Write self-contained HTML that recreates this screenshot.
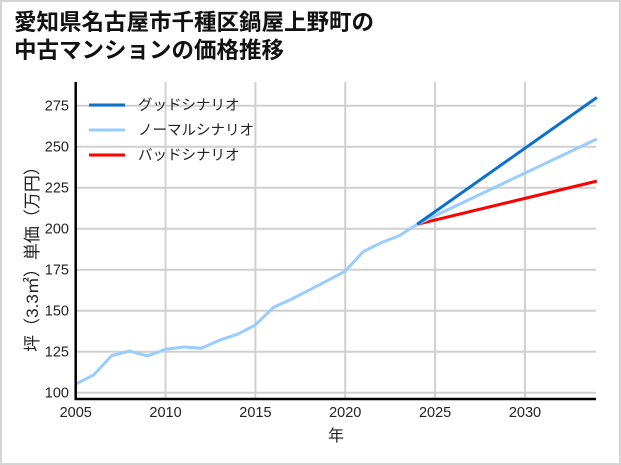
<!DOCTYPE html>
<html><head><meta charset="utf-8"><style>
html,body{margin:0;padding:0;background:#fff}
#wrap{position:relative;width:617px;height:461px;border:2px solid #d4d4d4;overflow:hidden}
svg text{font-family:"Liberation Sans","Noto Sans CJK JP",sans-serif}
</style></head><body>
<div id="wrap">
<svg id="chart" width="621" height="465" style="position:absolute;left:-2px;top:-2px">
<text x="14" y="30" font-size="22.5" font-weight="bold" fill="#111">愛知県名古屋市千種区鍋屋上野町の</text>
<text x="14" y="58" font-size="22.5" font-weight="bold" fill="#111">中古マンションの価格推移</text>
<g id="grid"></g><g id="series"></g><g id="axes"></g><g id="legend"></g>
<text x="336" y="441" font-size="16" fill="#222" text-anchor="middle">年</text>
<text transform="translate(38,255) rotate(-90)" font-size="17" fill="#222" text-anchor="middle">坪（3.3㎡）単価（万円）</text>
</svg>
</div>
<script>
const years=[2005,2006,2007,2008,2009,2010,2011,2012,2013,2014,2015,2016,2017,2018,2019,2020,2021,2022,2023,2024];
const history=[105.3,110.8,122.6,125.4,122.4,126.5,127.9,127.1,132,135.6,141.3,152,157,162.6,168.3,174.2,186,191.5,195.7,202.7];
const projYears=[2024,2034];
const good=[202.7,280];
const normal=[202.7,254.7];
const bad=[202.7,229];
const xTicks=[2005,2010,2015,2020,2025,2030];
const yTicks=[100,125,150,175,200,225,250,275];
const legendLabels=["グッドシナリオ","ノーマルシナリオ","バッドシナリオ"];
const legendColors=["#0a72cc","#99ccff","#ff0000"];

const X0=75.7,X1=596,Y0=399,Y1=82;
const xs=y=>X0+(y-2005)*17.97;
const ys=v=>392.7-(v-100)*1.64;
const NS="http://www.w3.org/2000/svg";
function mk(t,a,p){const e=document.createElementNS(NS,t);for(const k in a)e.setAttribute(k,a[k]);p.appendChild(e);return e;}
const grid=document.getElementById('grid'),axes=document.getElementById('axes'),ser=document.getElementById('series'),leg=document.getElementById('legend');
xTicks.forEach(t=>{
  const l=mk('line',{x1:xs(t),x2:xs(t),y1:Y1,y2:Y0,stroke:'#d0d0d0','stroke-width':2},grid);
  
  
  const tx=mk('text',{x:xs(t),y:417,'font-size':14.5,fill:'#222','text-anchor':'middle'},axes);
  tx.textContent=t;
  
  
});
yTicks.forEach(t=>{
  const l=mk('line',{x1:X0,x2:X1,y1:ys(t),y2:ys(t),stroke:'#d0d0d0','stroke-width':2},grid);
  
  
  const tx=mk('text',{x:69,y:ys(t)+5,'font-size':14.5,fill:'#222','text-anchor':'end'},axes);
  tx.textContent=t;
  
  
});
const ax=mk('path',{d:`M${X0},${Y1}V${Y0}H${X1}`,fill:'none',stroke:'#000','stroke-width':2.5},axes);


function line(xv,yv,c,name){
  const p=mk('polyline',{points:xv.map((x,i)=>xs(x)+','+ys(yv[i])).join(' '),fill:'none',stroke:c,'stroke-width':3,'stroke-linejoin':'round'},ser);
  
  
}
line(projYears,bad,legendColors[2],'bad-scenario-line');
line(projYears,normal,legendColors[1],'normal-scenario-line');
line(projYears,good,legendColors[0],'good-scenario-line');
line(years,history,legendColors[1],'historical-price-line');
legendLabels.forEach((s,i)=>{
  const y=105+i*25;
  const l=mk('line',{x1:89,x2:125,y1:y,y2:y,stroke:legendColors[i],'stroke-width':3},leg);
  
  
  const t=mk('text',{x:138,y:y+5,'font-size':14.5,fill:'#222'},leg);
  t.textContent=s;
  
  
});
</script>
</body></html>
